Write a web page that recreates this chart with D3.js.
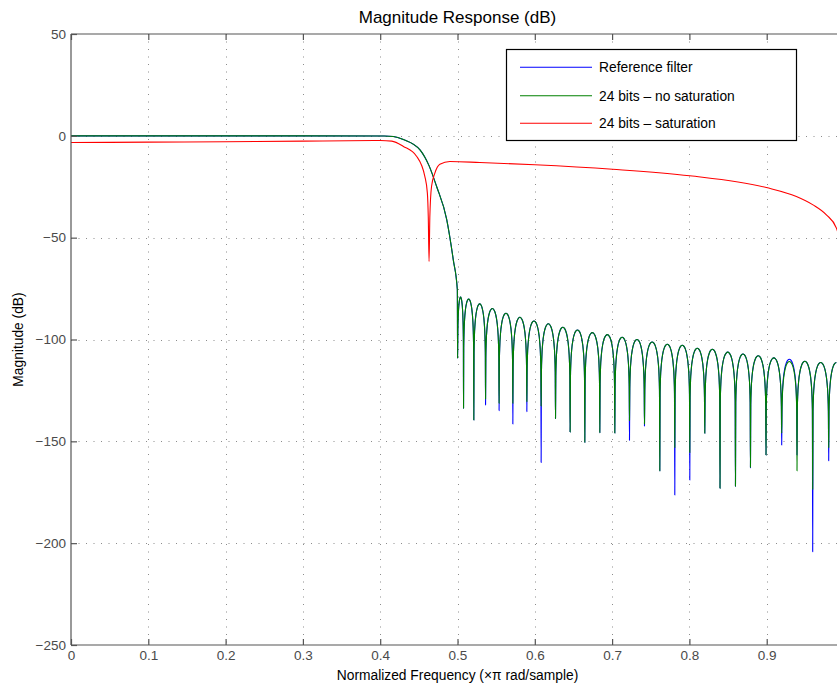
<!DOCTYPE html>
<html>
<head>
<meta charset="utf-8">
<script src="https://cdn.jsdelivr.net/npm/d3@7"></script>
<style>
  html, body { margin: 0; padding: 0; background: #fff; }
  svg { display: block; font-family: "Liberation Sans", Arial, Helvetica, sans-serif; }
</style>
</head>
<body>
<svg id="chart" width="837" height="683"></svg>
<script>
// ---------------- DATA ----------------
const title = "Magnitude Response (dB)";
const xLabel = "Normalized Frequency (\u00d7\u03c0 rad/sample)";
const yLabel = "Magnitude (dB)";
const xTicks = [0, 0.1, 0.2, 0.3, 0.4, 0.5, 0.6, 0.7, 0.8, 0.9];
const xTickLabels = ["0", "0.1", "0.2", "0.3", "0.4", "0.5", "0.6", "0.7", "0.8", "0.9"];
const yTicks = [50, 0, -50, -100, -150, -200, -250];
const yTickLabels = ["50", "0", "\u221250", "\u2212100", "\u2212150", "\u2212200", "\u2212250"];
const seriesNames = ["Reference filter", "24 bits \u2013 no saturation", "24 bits \u2013 saturation"];

// Passband + transition band (reference filter and 24 bits - no saturation coincide)
const passFreq = [0, 0.2, 0.405, 0.417, 0.43, 0.4515, 0.463, 0.473, 0.486, 0.4946, 0.4998];
const passDb   = [0, 0, -0.05, -0.3, -1.8, -6.9, -14.5, -24.9, -41, -61, -75.6];

// Stopband nulls (normalized frequency) and the upper end of the band
const nullFreq = [0.5001, 0.5078, 0.5211, 0.5363, 0.5538, 0.5716, 0.5897, 0.6082, 0.6268,
                  0.6457, 0.6647, 0.6841, 0.7035, 0.7225, 0.7419, 0.7617, 0.7811, 0.8005,
                  0.8199, 0.8396, 0.8596, 0.8790, 0.8991, 0.9194, 0.9392, 0.9595, 0.9802];
const bandEnd = 1.0;

// Depth of each null (dB)
const refNullDb   = [-109.2, -133.7, -139.5, -132.1, -134.9, -141.5, -135.4, -160.4, -138.8,
                     -145.4, -150.5, -145.7, -145.9, -149.5, -142.5, -164.5, -176.3, -169,
                     -146, -173, -172, -163, -156.7, -151.8, -156.7, -204.2, -159.5];
const noSatNullDb = [-109.2, -133.7, -139.5, -129.2, -131.3, -131.3, -130.5, -132.6, -138.8,
                     -145.4, -150.5, -145.7, -145.9, -139.8, -141.5, -164.5, -153, -155.5,
                     -146, -173, -172, -162.7, -156.7, -146, -164.5, -173.5, -153];

// Peak of each stopband lobe (dB), lobe i lies after null i
const refPeakDb   = [-79.2, -80.2, -82.5, -84.8, -87.1, -89.1, -90.9, -92.3, -94.0, -95.3,
                     -96.6, -97.6, -98.9, -100.0, -101.2, -102.3, -102.8, -104.3, -104.8,
                     -106.2, -107.1, -108.0, -109.0, -109.7, -110.7, -111.3, -111.3];
const noSatPeakDb = [-79.2, -80.2, -82.5, -84.8, -87.1, -89.1, -90.9, -92.3, -94.0, -95.3,
                     -96.6, -97.6, -98.9, -100.0, -101.2, -102.3, -102.8, -104.3, -104.8,
                     -106.2, -107.1, -108.0, -109.0, -110.8, -110.7, -111.3, -111.3];

// 24 bits - saturation
const satFreq = [0, 0.1, 0.2, 0.3, 0.4, 0.415, 0.43, 0.447, 0.4578, 0.461, 0.4622, 0.4632,
                 0.4642, 0.4664, 0.4707, 0.4772, 0.4901, 0.5289, 0.6, 0.7005, 0.8005,
                 0.8996, 0.9384, 0.9599, 0.9772, 0.9902, 1.0];
const satDb   = [-3.3, -3.1, -2.9, -2.6, -2.3, -2.6, -5.2, -10, -20, -28, -40, -61.7,
                 -40, -24.9, -18.3, -13.9, -12.6, -13.1, -14.2, -16.4, -19.6,
                 -25.4, -29.8, -33.9, -38.8, -45.3, -60];

// ---------------- LAYOUT / STYLE ----------------
const colors = ["#0000ff", "#008000", "#ff0000"];
const margin = { left: 71, top: 34, right: 844, bottom: 645 };
// shape of one stopband lobe: [fraction of lobe width, dB below lobe peak]
const lobeShape = [[0.02, -24], [0.05, -16], [0.1, -10.2], [0.2, -4.6], [0.3, -1.8], [0.4, -0.45],
                   [0.5, 0], [0.6, -0.45], [0.7, -1.8], [0.8, -4.6], [0.9, -10.2], [0.95, -16], [0.98, -24]];

const svg = d3.select("#chart");
const x = d3.scaleLinear().domain([0, 1]).range([margin.left, margin.right]);
const y = d3.scaleLinear().domain([-250, 50]).range([margin.bottom, margin.top]);

svg.append("defs").append("clipPath").attr("id", "clip")
  .append("rect").attr("x", margin.left).attr("y", margin.top)
  .attr("width", margin.right - margin.left).attr("height", margin.bottom - margin.top);

// grid
const grid = svg.append("g").attr("stroke", "#8c8c8c").attr("stroke-width", 1)
  .attr("stroke-dasharray", "1,6.5");
grid.selectAll("line.vx").data(xTicks.filter(d => d > 0)).join("line")
  .attr("x1", d => Math.round(x(d)) + 0.5).attr("x2", d => Math.round(x(d)) + 0.5)
  .attr("y1", margin.top).attr("y2", margin.bottom);
grid.selectAll("line.hy").data(yTicks.filter(d => d < 50 && d > -250)).join("line")
  .attr("y1", d => Math.round(y(d)) + 0.5).attr("y2", d => Math.round(y(d)) + 0.5)
  .attr("x1", margin.left).attr("x2", margin.right);

// series construction
function buildSeries(nullDb, peakDb) {
  const pts = passFreq.map((f, i) => [f, passDb[i]]);
  const bounds = nullFreq.concat([bandEnd]);
  nullFreq.forEach((f0, i) => {
    pts.push([f0, nullDb[i]]);
    const f1 = bounds[i + 1];
    const last = i === nullFreq.length - 1;
    lobeShape.forEach(([t, off]) => {
      if (last && t > 0.5) return;
      pts.push([f0 + t * (f1 - f0), peakDb[i] + off]);
    });
  });
  return pts;
}
const line = d3.line().x(d => x(d[0])).y(d => y(d[1])).curve(d3.curveMonotoneX);

const plot = svg.append("g").attr("clip-path", "url(#clip)");
const seriesData = [
  buildSeries(refNullDb, refPeakDb),
  buildSeries(noSatNullDb, noSatPeakDb),
  satFreq.map((f, i) => [f, satDb[i]])
];
seriesData.forEach((pts, i) => {
  plot.append("path").datum(pts).attr("d", line)
    .attr("fill", "none").attr("stroke", colors[i]).attr("stroke-width", 1.1)
    .attr("stroke-linejoin", "round");
});

// axes frame
const axisColor = "#555";
const frame = svg.append("g").attr("stroke", axisColor).attr("stroke-width", 1.2).attr("fill", "none");
frame.append("line").attr("x1", margin.left).attr("x2", margin.right).attr("y1", margin.top).attr("y2", margin.top);
frame.append("line").attr("x1", margin.left).attr("x2", margin.right).attr("y1", margin.bottom).attr("y2", margin.bottom);
frame.append("line").attr("x1", margin.left).attr("x2", margin.left).attr("y1", margin.top).attr("y2", margin.bottom);
frame.append("line").attr("x1", margin.right).attr("x2", margin.right).attr("y1", margin.top).attr("y2", margin.bottom);

// ticks via d3 axes
const tickLen = 6;
const xAxisB = d3.axisBottom(x).tickValues(xTicks).tickFormat((d, i) => xTickLabels[i])
  .tickSizeInner(-tickLen).tickSizeOuter(0).tickPadding(5);
const xAxisT = d3.axisTop(x).tickValues(xTicks).tickFormat("").tickSizeInner(-tickLen).tickSizeOuter(0);
const yAxisL = d3.axisLeft(y).tickValues(yTicks).tickFormat((d, i) => yTickLabels[i])
  .tickSizeInner(-tickLen).tickSizeOuter(0).tickPadding(5);

function styleAxis(g) {
  g.select(".domain").remove();
  g.selectAll(".tick line").attr("stroke", axisColor).attr("stroke-width", 1.2);
  g.selectAll(".tick text").attr("fill", "#4a4a4a").style("font-size", "13.5px")
    .style("font-family", "'Liberation Sans', Arial, sans-serif");
}
svg.append("g").attr("transform", `translate(0,${margin.bottom})`).call(xAxisB).call(styleAxis);
svg.append("g").attr("transform", `translate(0,${margin.top})`).call(xAxisT).call(styleAxis);
svg.append("g").attr("transform", `translate(${margin.left},0)`).call(yAxisL).call(styleAxis);

// labels
svg.append("text").attr("x", (margin.left + margin.right) / 2).attr("y", 23)
  .attr("text-anchor", "middle").style("font-size", "17px").attr("fill", "#000").text(title);
svg.append("text").attr("x", (margin.left + margin.right) / 2).attr("y", 680)
  .attr("text-anchor", "middle").style("font-size", "13.8px").attr("fill", "#000").text(xLabel);
svg.append("text").attr("transform", `translate(23,${(margin.top + margin.bottom) / 2}) rotate(-90)`)
  .attr("text-anchor", "middle").style("font-size", "13.8px").attr("fill", "#000").text(yLabel);

// legend
const lg = svg.append("g");
lg.append("rect").attr("x", 506.5).attr("y", 49.5).attr("width", 290).attr("height", 91)
  .attr("fill", "#fff").attr("stroke", "#000").attr("stroke-width", 1.2);
const rowY = [67.3, 95.7, 123.3];
seriesNames.forEach((name, i) => {
  lg.append("line").attr("x1", 520).attr("x2", 592).attr("y1", rowY[i]).attr("y2", rowY[i])
    .attr("stroke", colors[i]).attr("stroke-width", 1.1);
  lg.append("text").attr("x", 599).attr("y", rowY[i] + 5).style("font-size", "13.8px")
    .attr("fill", "#000").text(name);
});
</script>
</body>
</html>
